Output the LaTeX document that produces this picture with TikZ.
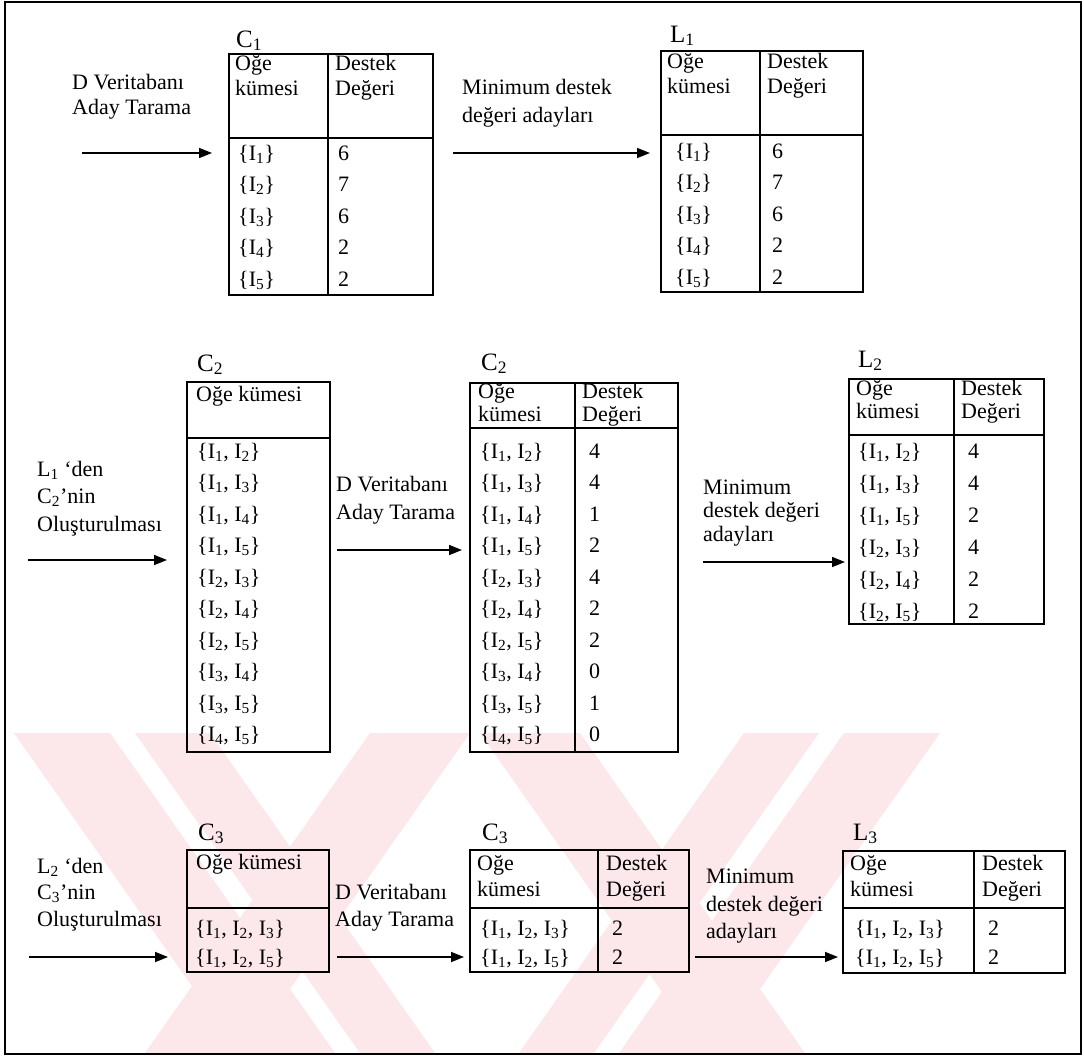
\documentclass[tikz,border=0pt]{standalone}
\usepackage{fontspec}
\setmainfont{Liberation Serif}
\usetikzlibrary{arrows.meta}
\definecolor{wm}{RGB}{252,231,234}
\tikzset{
  tline/.style={line width=1.8pt},
  tbox/.style={draw, line width=1.8pt, anchor=north west, inner sep=0pt},
  txt/.style={anchor=west, inner sep=0pt, text height=12pt, text depth=0pt, font=\fontsize{22}{26}\selectfont},
  ttl/.style={anchor=west, inner sep=0pt, text height=14pt, text depth=0pt, font=\fontsize{25}{29}\selectfont},
  arr/.style={line width=1.6pt, -{Triangle[length=13pt,width=10pt]}},
  wmband/.style={fill=wm, draw=none},
}
\newcommand{\iset}[1]{I\textsubscript{#1}}
\begin{document}
\begin{tikzpicture}[x=1pt,y=-1pt]
\useasboundingbox (0,0) rectangle (1084,1058);
\fill[white] (0,0) rectangle (1084,1058);
% watermark
\fill[wmband] (14,733) -- (110,733) -- (335,1053) -- (239,1053) -- cycle;
\fill[wmband] (135,733) -- (210,733) -- (435,1053) -- (360,1053) -- cycle;
\fill[wmband] (844,733) -- (940,733) -- (715,1053) -- (619,1053) -- cycle;
\fill[wmband] (744,733) -- (819,733) -- (594,1053) -- (519,1053) -- cycle;
\fill[wmband] (480,733) -- (580,733) -- (805,1053) -- (705,1053) -- cycle;
\fill[wmband] (370,733) -- (470,733) -- (245,1053) -- (145,1053) -- cycle;
% frame
\draw[line width=1.8pt] (5,2) rectangle (1081,1054);

% ===== Row 1 =====
\node[txt] (r1a) at (72,83) {D Veritabanı};
\node[txt] (r1b) at (72,108) {Aday Tarama};
\coordinate (a1s) at (82,153);
\coordinate (a1e) at (212,153);
\draw[arr] (a1s) -- (a1e);

\node[ttl] (tC1) at (236,40) {C\textsubscript{1}};
\node[tbox, minimum width=204pt, minimum height=241pt] (C1) at (228,53) {};
\draw[tline] (328,53) -- (328,294);
\draw[tline] (228,138) -- (432,138);
\node[txt] (c1h1) at (235,64) {Oğe};
\node[txt] (c1h2) at (235,89) {kümesi};
\node[txt] (c1h3) at (335,64) {Destek};
\node[txt] (c1h4) at (335,89) {Değeri};
\foreach \a/\v [count=\i] in {1/6,2/7,3/6,4/2,5/2}{
  \node[txt] (c1i\i) at (238,{154+31.5*(\i-1)}) {\{\iset{\a}\}};
  \node[txt] (c1v\i) at (338,{154+31.5*(\i-1)}) {\v};
}

\node[txt] (r2a) at (462,88) {Minimum destek};
\node[txt] (r2b) at (462,116) {değeri adayları};
\coordinate (a2s) at (453,153);
\coordinate (a2e) at (650,153);
\draw[arr] (a2s) -- (a2e);

\node[ttl] (tL1) at (670,35) {L\textsubscript{1}};
\node[tbox, minimum width=202pt, minimum height=241pt] (L1) at (660,50) {};
\draw[tline] (760,50) -- (760,291);
\draw[tline] (660,135) -- (862,135);
\node[txt] (l1h1) at (667,62) {Oğe};
\node[txt] (l1h2) at (667,87) {kümesi};
\node[txt] (l1h3) at (767,62) {Destek};
\node[txt] (l1h4) at (767,87) {Değeri};
\foreach \a/\v [count=\i] in {1/6,2/7,3/6,4/2,5/2}{
  \node[txt] (l1i\i) at (675,{152+31.5*(\i-1)}) {\{\iset{\a}\}};
  \node[txt] (l1v\i) at (772,{152+31.5*(\i-1)}) {\v};
}

% ===== Row 2 =====
\node[txt] (r3a) at (37,470) {L\textsubscript{1} ‘den};
\node[txt] (r3b) at (37,497) {C\textsubscript{2}’nin};
\node[txt] (r3c) at (37,525) {Oluşturulması};
\coordinate (a3s) at (28,560);
\coordinate (a3e) at (167,560);
\draw[arr] (a3s) -- (a3e);

\node[ttl] (tC2a) at (197,364) {C\textsubscript{2}};
\node[tbox, minimum width=143pt, minimum height=370pt] (C2a) at (186,381) {};
\draw[tline] (186,438) -- (329,438);
\node[txt] (c2ah) at (196,395) {Oğe kümesi};
\foreach \a/\b [count=\i] in {1/2,1/3,1/4,1/5,2/3,2/4,2/5,3/4,3/5,4/5}{
  \node[txt] (c2ai\i) at (197,{452+31.5*(\i-1)}) {\{\iset{\a}, \iset{\b}\}};
}

\node[txt] (r4a) at (336,485) {D Veritabanı};
\node[txt] (r4b) at (336,513) {Aday Tarama};
\coordinate (a4s) at (337,550);
\coordinate (a4e) at (462,550);
\draw[arr] (a4s) -- (a4e);

\node[ttl] (tC2b) at (481,363) {C\textsubscript{2}};
\node[tbox, minimum width=208pt, minimum height=369pt] (C2b) at (469,382) {};
\draw[tline] (575,382) -- (575,751);
\draw[tline] (469,428) -- (677,428);
\node[txt] (c2bh1) at (478,392) {Oğe};
\node[txt] (c2bh2) at (478,415) {kümesi};
\node[txt] (c2bh3) at (582,392) {Destek};
\node[txt] (c2bh4) at (582,415) {Değeri};
\foreach \a/\b/\v [count=\i] in {1/2/4,1/3/4,1/4/1,1/5/2,2/3/4,2/4/2,2/5/2,3/4/0,3/5/1,4/5/0}{
  \node[txt] (c2bi\i) at (480,{452+31.5*(\i-1)}) {\{\iset{\a}, \iset{\b}\}};
  \node[txt] (c2bv\i) at (589,{452+31.5*(\i-1)}) {\v};
}

\node[txt] (r5a) at (703,488) {Minimum};
\node[txt] (r5b) at (703,511) {destek değeri};
\node[txt] (r5c) at (703,535) {adayları};
\coordinate (a5s) at (703,562);
\coordinate (a5e) at (845,562);
\draw[arr] (a5s) -- (a5e);

\node[ttl] (tL2) at (858,360) {L\textsubscript{2}};
\node[tbox, minimum width=195pt, minimum height=245pt] (L2) at (848,378) {};
\draw[tline] (954,378) -- (954,623);
\draw[tline] (848,435) -- (1043,435);
\node[txt] (l2h1) at (856,389) {Oğe};
\node[txt] (l2h2) at (856,412) {kümesi};
\node[txt] (l2h3) at (961,389) {Destek};
\node[txt] (l2h4) at (961,412) {Değeri};
\foreach \a/\b/\v [count=\i] in {1/2/4,1/3/4,1/5/2,2/3/4,2/4/2,2/5/2}{
  \node[txt] (l2i\i) at (858,{452+32*(\i-1)}) {\{\iset{\a}, \iset{\b}\}};
  \node[txt] (l2v\i) at (968,{452+32*(\i-1)}) {\v};
}

% ===== Row 3 =====
\node[txt] (r6a) at (37,867) {L\textsubscript{2} ‘den};
\node[txt] (r6b) at (37,893) {C\textsubscript{3}’nin};
\node[txt] (r6c) at (37,920) {Oluşturulması};
\coordinate (a6s) at (29,957);
\coordinate (a6e) at (168,957);
\draw[arr] (a6s) -- (a6e);

\node[ttl] (tC3a) at (198,833) {C\textsubscript{3}};
\node[tbox, minimum width=142pt, minimum height=122pt] (C3a) at (186,849) {};
\draw[tline] (186,908) -- (328,908);
\node[txt] (c3ah) at (196,863) {Oğe kümesi};
\node[txt] (c3ai1) at (195,929) {\{\iset{1}, \iset{2}, \iset{3}\}};
\node[txt] (c3ai2) at (195,958) {\{\iset{1}, \iset{2}, \iset{5}\}};

\node[txt] (r7a) at (335,893) {D Veritabanı};
\node[txt] (r7b) at (335,920) {Aday Tarama};
\coordinate (a7s) at (337,957);
\coordinate (a7e) at (464,957);
\draw[arr] (a7s) -- (a7e);

\node[ttl] (tC3b) at (482,833) {C\textsubscript{3}};
\node[tbox, minimum width=219pt, minimum height=122pt] (C3b) at (469,849) {};
\draw[tline] (598,849) -- (598,971);
\draw[tline] (469,908) -- (688,908);
\node[txt] (c3bh1) at (477,864) {Oğe};
\node[txt] (c3bh2) at (477,890) {kümesi};
\node[txt] (c3bh3) at (606,864) {Destek};
\node[txt] (c3bh4) at (606,890) {Değeri};
\node[txt] (c3bi1) at (480,929) {\{\iset{1}, \iset{2}, \iset{3}\}};
\node[txt] (c3bi2) at (480,958) {\{\iset{1}, \iset{2}, \iset{5}\}};
\node[txt] (c3bv1) at (612,929) {2};
\node[txt] (c3bv2) at (612,958) {2};

\node[txt] (r8a) at (706,877) {Minimum};
\node[txt] (r8b) at (706,905) {destek değeri};
\node[txt] (r8c) at (706,932) {adayları};
\coordinate (a8s) at (695,957);
\coordinate (a8e) at (838,957);
\draw[arr] (a8s) -- (a8e);

\node[ttl] (tL3) at (853,833) {L\textsubscript{3}};
\node[tbox, minimum width=222pt, minimum height=122pt] (L3) at (842,850) {};
\draw[tline] (974,850) -- (974,972);
\draw[tline] (842,908) -- (1064,908);
\node[txt] (l3h1) at (850,864) {Oğe};
\node[txt] (l3h2) at (850,890) {kümesi};
\node[txt] (l3h3) at (982,864) {Destek};
\node[txt] (l3h4) at (982,890) {Değeri};
\node[txt] (l3i1) at (855,929) {\{\iset{1}, \iset{2}, \iset{3}\}};
\node[txt] (l3i2) at (855,958) {\{\iset{1}, \iset{2}, \iset{5}\}};
\node[txt] (l3v1) at (988,929) {2};
\node[txt] (l3v2) at (988,958) {2};
\end{tikzpicture}
\end{document}
